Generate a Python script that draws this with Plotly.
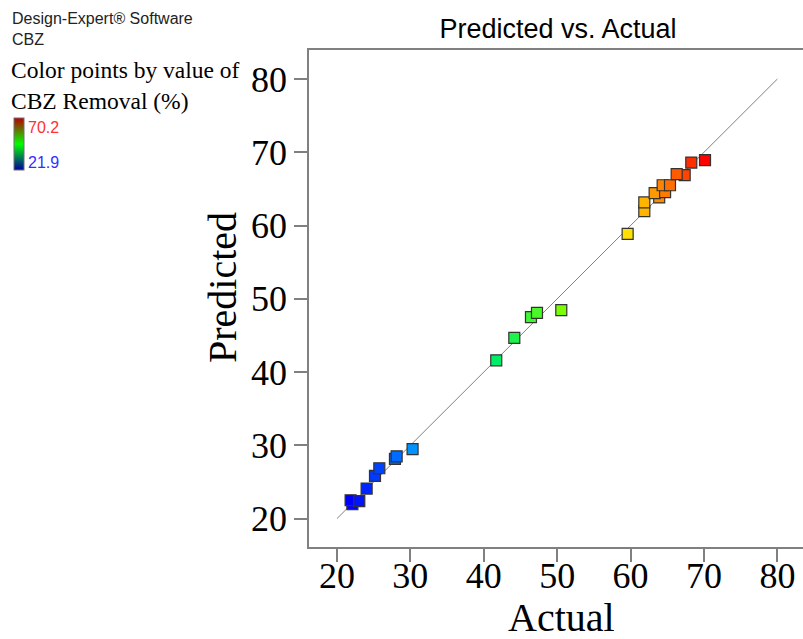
import plotly.graph_objects as go

actual = [22.1, 21.86, 23.04, 24.04, 25.18, 25.77, 27.9, 28.13, 30.3,
          41.7, 44.16, 46.43, 47.25, 50.56,
          59.6,
          61.87, 61.87, 63.9, 63.28, 64.7, 64.37, 65.37, 67.37, 66.28, 68.27, 70.14]
predicted = [21.96, 22.5, 22.37, 24.1, 25.83, 26.87, 28.15, 28.5, 29.47,
             41.6, 44.67, 47.49, 48.08, 48.45,
             58.87,
             61.97, 63.15, 63.83, 64.42, 64.56, 65.5, 65.5, 66.88, 67.02, 68.6, 68.93]
cmin_val, cmax_val = 21.9, 70.2
tick_vals = [20, 30, 40, 50, 60, 70, 80]
line_ends = [20, 80]

rainbow = [[0, "#0000ff"], [0.2, "#00a8ff"], [0.42, "#00f060"], [0.6, "#80ff00"],
           [0.78, "#ffe000"], [0.85, "#ffa000"], [0.93, "#ff5000"], [1, "#ff0000"]]
legend_scale = [[0, "#0000a0"], [0.5, "#00ff00"], [1, "#b80000"]]

L, T, W, H = 309, 50, 494, 497

def px(xp):
    return (xp - L) / W

def py(yp):
    return 1 - (yp - T) / H

fig = go.Figure()
fig.add_trace(go.Scatter(x=line_ends, y=line_ends, mode="lines",
                         line=dict(color="#808080", width=1), hoverinfo="skip"))
fig.add_trace(go.Scatter(
    x=actual, y=predicted, mode="markers",
    marker=dict(symbol="square", size=11, color=actual, colorscale=rainbow,
                cmin=cmin_val, cmax=cmax_val, line=dict(color="#333333", width=1.2),
                showscale=False)))
# legend colour bar (invisible carrier point)
fig.add_trace(go.Scatter(
    x=[actual[0]], y=[predicted[0]], mode="markers", hoverinfo="skip",
    marker=dict(color=[cmin_val], colorscale=legend_scale, cmin=cmin_val, cmax=cmax_val,
                opacity=0, size=1, showscale=True,
                colorbar=dict(x=px(14), xanchor="left",
                              y=py(118), yanchor="top", thickness=10, thicknessmode="pixels",
                              len=52, lenmode="pixels", outlinecolor="#707070", outlinewidth=1,
                              showticklabels=False, ticks="", xpad=0, ypad=0))))

fig.update_layout(
    width=803, height=639, showlegend=False,
    plot_bgcolor="white", paper_bgcolor="white",
    margin=dict(l=L, r=0, t=T, b=92, autoexpand=False),
    title=dict(text="Predicted vs. Actual", x=558/803, xanchor="center", y=1-29/639, yanchor="middle",
               font=dict(family="Liberation Sans, Arial", size=27, color="black")),
    font=dict(family="Liberation Serif, Times New Roman", color="black"),
)
fig.update_xaxes(range=[16.19, 83.49], tickvals=tick_vals, ticks="outside", ticklen=13,
                 tickcolor="#808080", tickwidth=1.5, showline=True, linecolor="#808080",
                 linewidth=1.5, mirror=True, showgrid=False, zeroline=False,
                 ticklabelstandoff=-17,
                 tickfont=dict(size=36, family="Liberation Serif"))
fig.update_yaxes(range=[16.12, 83.96], tickvals=tick_vals, ticks="outside", ticklen=13,
                 tickcolor="#808080", tickwidth=1.5, showline=True, linecolor="#808080",
                 linewidth=1.5, showgrid=False, zeroline=False,
                 tickfont=dict(size=36, family="Liberation Serif"))

# axis titles
fig.add_annotation(xref="paper", yref="paper", x=px(561), y=py(617), xanchor="center", yanchor="middle",
                   text="Actual", showarrow=False,
                   font=dict(family="Liberation Serif", size=40, color="black"))
fig.add_annotation(xref="paper", yref="paper", x=px(222), y=py(288), xanchor="center", yanchor="middle",
                   text="Predicted", showarrow=False, textangle=-90,
                   font=dict(family="Liberation Serif", size=40, color="black"))

fig.add_annotation(xref="paper", yref="paper", x=px(10), y=py(8), xanchor="left", yanchor="top",
                   text="Design-Expert® Software<br>CBZ", showarrow=False, align="left",
                   font=dict(family="Liberation Sans, Arial", size=16, color="#222222"))
fig.add_annotation(xref="paper", yref="paper", x=px(9), y=py(55), xanchor="left", yanchor="top",
                   text="Color points by value of<br>CBZ Removal (%)", showarrow=False, align="left",
                   font=dict(family="Liberation Serif", size=23.5, color="black"))
fig.add_annotation(xref="paper", yref="paper", x=px(26), y=py(127), xanchor="left", yanchor="middle",
                   text=f"{cmax_val}", showarrow=False,
                   font=dict(family="Liberation Sans, Arial", size=16, color="#ff3030"))
fig.add_annotation(xref="paper", yref="paper", x=px(26), y=py(162), xanchor="left", yanchor="middle",
                   text=f"{cmin_val}", showarrow=False,
                   font=dict(family="Liberation Sans, Arial", size=16, color="#3030ff"))

fig.write_html("out.html", post_script="document.body.style.margin='0';",
               config={"displayModeBar": False})
